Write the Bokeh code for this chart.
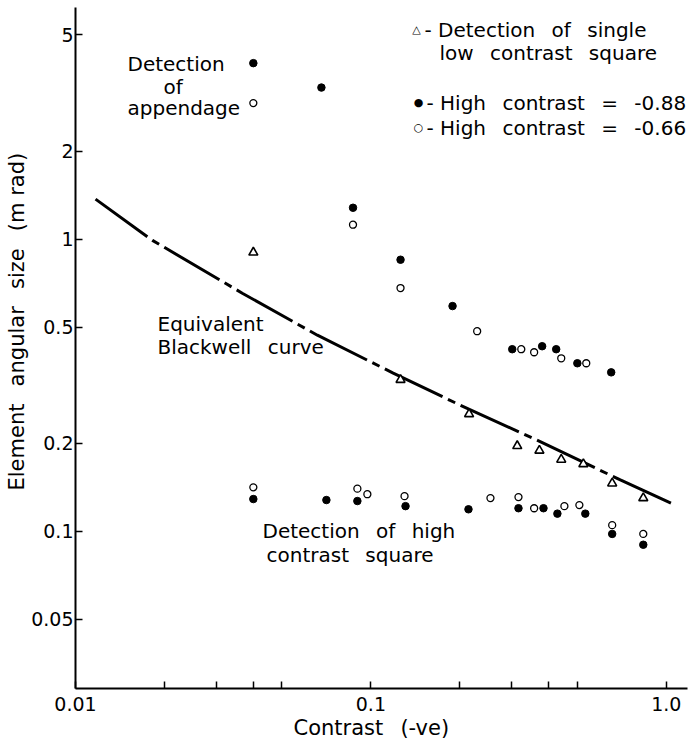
from bokeh.plotting import figure
from bokeh.models import FixedTicker, Label, Title
from bokeh.embed import file_html
from bokeh.resources import INLINE

# Contrast (-ve) against element angular size (m rad)
appendage_088_x = [0.04, 0.068, 0.087, 0.126, 0.189, 0.301, 0.380, 0.424, 0.50, 0.651]
appendage_088_y = [4.0, 3.3, 1.28, 0.85, 0.59, 0.42, 0.43, 0.42, 0.376, 0.35]
appendage_066_x = [0.04, 0.087, 0.126, 0.229, 0.323, 0.357, 0.441, 0.536]
appendage_066_y = [2.92, 1.12, 0.68, 0.484, 0.42, 0.41, 0.391, 0.376]

square_088_x = [0.04, 0.0707, 0.090, 0.131, 0.214, 0.316, 0.384, 0.428, 0.532, 0.656, 0.836]
square_088_y = [0.129, 0.128, 0.127, 0.122, 0.119, 0.120, 0.120, 0.115, 0.115, 0.098, 0.090]
square_066_x = [0.04, 0.090, 0.0973, 0.130, 0.254, 0.316, 0.357, 0.452, 0.508, 0.656, 0.836]
square_066_y = [0.1415, 0.140, 0.134, 0.132, 0.130, 0.131, 0.120, 0.122, 0.123, 0.105, 0.098]

low_contrast_x = [0.04, 0.126, 0.215, 0.313, 0.372, 0.441, 0.524, 0.656, 0.836]
low_contrast_y = [0.90, 0.33, 0.252, 0.196, 0.189, 0.176, 0.170, 0.146, 0.130]

blackwell_x = [0.01169, 0.01822, 0.0367, 0.0659, 0.119, 0.201, 0.355, 0.699, 1.072]
blackwell_y = [1.37, 0.99, 0.653, 0.469, 0.348, 0.270, 0.208, 0.150, 0.123]

x_ticks = [0.01, 0.02, 0.03, 0.04, 0.05, 0.1, 0.2, 0.3, 0.4, 0.5, 1.0]
x_tick_labels = ["0.01", "", "", "", "", "0.1", "", "", "", "", "1.0"]
y_ticks = [0.05, 0.1, 0.2, 0.5, 1.0, 2.0, 5.0]
y_tick_labels = ["0.05", "0.1", "0.2", "0.5", "1", "2", "5"]

FONT = "DejaVu Sans"
GAP = "\u00a0\u2002"          # wide word spacing used throughout the lettering
LEFT, RIGHT, TOP, BOTTOM = 75, 11, 7, 58
W, H = 698, 746


def spaced(*words):
    return GAP.join(words)


p = figure(width=W, height=H, x_axis_type="log", y_axis_type="log",
           x_range=(0.01, 1.18), y_range=(0.029, 6.2),
           min_border_left=LEFT, min_border_right=RIGHT,
           min_border_top=TOP, min_border_bottom=BOTTOM,
           output_backend="svg", toolbar_location=None)
p.outline_line_color = None
p.grid.visible = False

p.xaxis.ticker = FixedTicker(ticks=x_ticks)
p.xaxis.major_label_overrides = dict(zip(x_ticks, x_tick_labels))
p.yaxis.ticker = FixedTicker(ticks=y_ticks)
p.yaxis.major_label_overrides = dict(zip(y_ticks, y_tick_labels))
for ax in (p.xaxis, p.yaxis):
    ax.axis_line_width = 2
    ax.axis_line_color = "black"
    ax.major_tick_line_width = 1.5
    ax.major_tick_line_color = "black"
    ax.major_tick_in = 7
    ax.major_tick_out = 0
    ax.minor_tick_line_color = None
    ax.major_label_text_font = FONT
    ax.major_label_text_font_size = "19px"
    ax.major_label_text_color = "black"
p.xaxis.major_label_standoff = 8
p.yaxis.major_label_standoff = 2

# axis titles as side titles so they can sit off-centre
p.add_layout(Title(text=spaced("Contrast", "(-ve)"),
                   align="left", offset=218, standoff=0,
                   text_font=FONT, text_font_size="21px",
                   text_font_style="normal", text_color="black"), "below")
p.add_layout(Title(text=spaced("Element", "angular", "size", "(m rad)"),
                   align="left", offset=198, standoff=0,
                   text_font=FONT, text_font_size="21px",
                   text_font_style="normal", text_color="black"), "left")

# Equivalent Blackwell curve (dash-dot)
p.line(blackwell_x, blackwell_y, line_color="black", line_width=3,
       line_dash="64 6 8 6")

# Measured thresholds
p.scatter(low_contrast_x, low_contrast_y, marker="triangle", size=9,
          fill_color="white", line_color="black", line_width=1.6)
p.scatter(appendage_066_x, appendage_066_y, marker="circle", size=7,
          fill_color="white", line_color="black", line_width=1.3)
p.scatter(square_066_x, square_066_y, marker="circle", size=7,
          fill_color="white", line_color="black", line_width=1.3)
p.scatter(appendage_088_x, appendage_088_y, marker="circle", size=7.5,
          fill_color="black", line_color="black")
p.scatter(square_088_x, square_088_y, marker="circle", size=7.5,
          fill_color="black", line_color="black")


def note(text, cx, cy, size="20px", align="left"):
    """Place a text label at canvas pixel (cx, cy), measured from the top-left."""
    p.add_layout(Label(x=cx - LEFT, y=(H - BOTTOM) - cy, x_units="screen", y_units="screen",
                       text=text, text_font=FONT, text_font_size=size,
                       text_align=align, text_baseline="middle",
                       text_color="black"))


# annotations
note("Detection", 127, 63)
note("of", 163, 86)
note("appendage", 127, 107)
note("Equivalent", 157, 323)
note(spaced("Blackwell", "curve"), 157, 346)
note(spaced("Detection", "of", "high"), 262, 530)
note(spaced("contrast", "square"), 266, 554)

# key
note("\u25b3", 416, 29, size="11px", align="center")
note("- " + spaced("Detection", "of", "single"), 424, 29)
note(spaced("low", "contrast", "square"), 439, 52)
note("\u25cf", 418, 102, size="11px", align="center")
note("- " + spaced("High", "contrast", "=", "-0.88"), 426, 102)
note("\u25cb", 418, 127, size="11px", align="center")
note("- " + spaced("High", "contrast", "=", "-0.66"), 426, 127)

open("out.html", "w").write(file_html(p, INLINE))
